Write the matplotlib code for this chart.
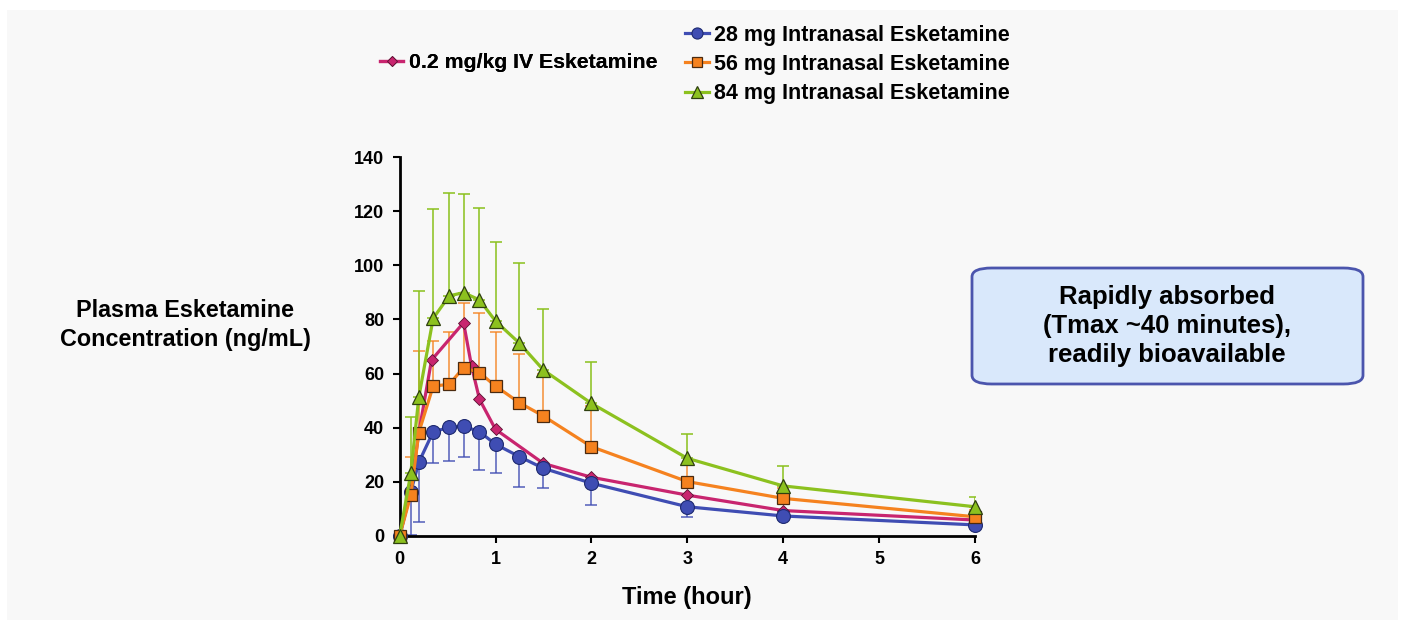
import numpy as np
import matplotlib.pyplot as plt
from matplotlib.patches import Rectangle, FancyBboxPatch

plt.rcParams['font.family'] = ['Liberation Sans', 'DejaVu Sans']
plt.rcParams['font.weight'] = 'bold'

# sampling times (hour)
t_in = [0, 0.117, 0.2, 0.35, 0.517, 0.667, 0.833, 1, 1.25, 1.5, 2, 3, 4, 6]
t_iv = [0, 0.117, 0.2, 0.333, 0.667, 0.75, 0.833, 1, 1.5, 2, 3, 4, 6]

# 0.2 mg/kg IV
iv = [0, 17, 38, 65, 78.8, 62.8, 50.5, 39.4, 26.8, 21.7, 15.1, 9.4, 5.9]

# 28 mg intranasal (mean, lower SD)
mg28 = [0, 16.4, 27.2, 38.5, 40.1, 40.6, 38.5, 33.9, 29.3, 25.0, 19.5, 10.8, 7.4, 4.1]
mg28_lo = [0, 16.0, 21.9, 11.5, 12.3, 11.3, 14.1, 10.7, 11.1, 7.4, 8.0, 3.7, 1.0, 0.5]

# 56 mg intranasal (mean, upper SD)
mg56 = [0, 15.1, 38.2, 55.4, 56.0, 62.2, 60.3, 55.4, 49.2, 44.3, 33.0, 20.1, 13.9, 7.1]
mg56_hi = [0, 14.2, 30.3, 16.6, 19.5, 23.8, 22.2, 20.1, 18.0, 15.7, 15.0, 6.0, 4.0, 2.5]

# 84 mg intranasal (mean, upper SD)
mg84 = [0, 23.2, 51.2, 80.4, 88.7, 89.9, 87.2, 79.4, 71.2, 61.3, 49.0, 28.7, 18.5, 10.8]
mg84_hi = [0, 20.9, 39.4, 40.4, 37.9, 36.3, 34.1, 29.1, 29.5, 22.6, 15.4, 9.0, 7.4, 3.5]

c_iv = '#c8256f'
c28 = '#3f4db3'
c56 = '#f5821f'
c84 = '#8cc11f'
zero = np.zeros(len(t_in))

fig = plt.figure(figsize=(14.03, 6.27), dpi=100)
fig.patch.set_facecolor('white')
fig.patches.append(Rectangle((7 / 1403, 7 / 627), 1391 / 1403, 610 / 627,
                             transform=fig.transFigure, facecolor='#f8f8f8',
                             edgecolor='none', zorder=-10))

ax = fig.add_axes([399.6 / 1403, 1 - 536 / 627, 575.4 / 1403, 379 / 627])
ax.set_facecolor('none')

ax.errorbar(t_in, mg28, yerr=[mg28_lo, zero], fmt='none', ecolor=c28, alpha=0.7,
            elinewidth=1.4, capsize=4, capthick=1.4, zorder=1)
ax.errorbar(t_in, mg56, yerr=[zero, mg56_hi], fmt='none', ecolor=c56, alpha=0.7,
            elinewidth=1.4, capsize=4, capthick=1.4, zorder=1)
ax.errorbar(t_in, mg84, yerr=[zero, mg84_hi], fmt='none', ecolor=c84, alpha=0.8,
            elinewidth=1.4, capsize=4, capthick=1.4, zorder=1)

l_iv, = ax.plot(t_iv, iv, color=c_iv, lw=2.3, marker='D', ms=6.5, mfc=c_iv,
                mec='#5a1030', mew=0.6, label='0.2 mg/kg IV Esketamine', zorder=2,
                clip_on=False)
l28, = ax.plot(t_in, mg28, color=c28, lw=2.3, marker='o', ms=10, mfc=c28,
               mec='#1e2a70', mew=0.8, label='28 mg Intranasal Esketamine', zorder=3,
               clip_on=False)
l56, = ax.plot(t_in, mg56, color=c56, lw=2.3, marker='s', ms=9, mfc=c56,
               mec='#4a2a10', mew=0.9, label='56 mg Intranasal Esketamine', zorder=4,
               clip_on=False)
l84, = ax.plot(t_in, mg84, color=c84, lw=2.3, marker='^', ms=10.5, mfc=c84,
               mec='#2f4010', mew=0.9, label='84 mg Intranasal Esketamine', zorder=5,
               clip_on=False)

ax.set_xlim(0, 6)
ax.set_ylim(0, 140)
ax.set_xticks(range(0, 7))
ax.set_yticks(range(0, 141, 20))
for s in ['top', 'right']:
    ax.spines[s].set_visible(False)
for s in ['left', 'bottom']:
    ax.spines[s].set_linewidth(2)
ax.tick_params(direction='out', length=5, width=1.5, labelsize=13, pad=6)
for lab in ax.get_xticklabels() + ax.get_yticklabels():
    lab.set_fontweight('bold')
ax.set_xlabel('Time (hour)', fontsize=17, fontweight='bold', labelpad=13)

fig.text(185 / 1403, 1 - 325 / 627, 'Plasma Esketamine\nConcentration (ng/mL)',
         ha='center', va='center', fontsize=16.8, fontweight='bold', linespacing=1.35)

leg1 = fig.legend(handles=[l_iv], loc='center left',
                  bbox_to_anchor=(380 / 1403, 1 - 63 / 627), frameon=False,
                  fontsize=15.3, handlelength=1.1, handletextpad=0.25,
                  borderpad=0, borderaxespad=0, markerscale=0.85)
leg2 = fig.legend(handles=[l28, l56, l84], loc='center left',
                  bbox_to_anchor=(685 / 1403, 1 - 64.5 / 627), frameon=False,
                  fontsize=15.5, handlelength=1.1, handletextpad=0.25,
                  labelspacing=0.38, borderpad=0, borderaxespad=0, markerscale=0.8)
fig.add_artist(leg1)

box = FancyBboxPatch((972 / 1403, 1 - 384 / 627), 391 / 1403, 116 / 627,
                     boxstyle='round,pad=0,rounding_size=0.014',
                     transform=fig.transFigure, facecolor='#d9e8fb',
                     edgecolor='#4b55ad', lw=2)
fig.patches.append(box)
fig.text(1167 / 1403, 1 - 326 / 627,
         'Rapidly absorbed\n(Tmax ~40 minutes),\nreadily bioavailable',
         ha='center', va='center', fontsize=18.5, fontweight='bold', linespacing=1.25)

fig.savefig('out.png', dpi=100, facecolor=fig.get_facecolor())
